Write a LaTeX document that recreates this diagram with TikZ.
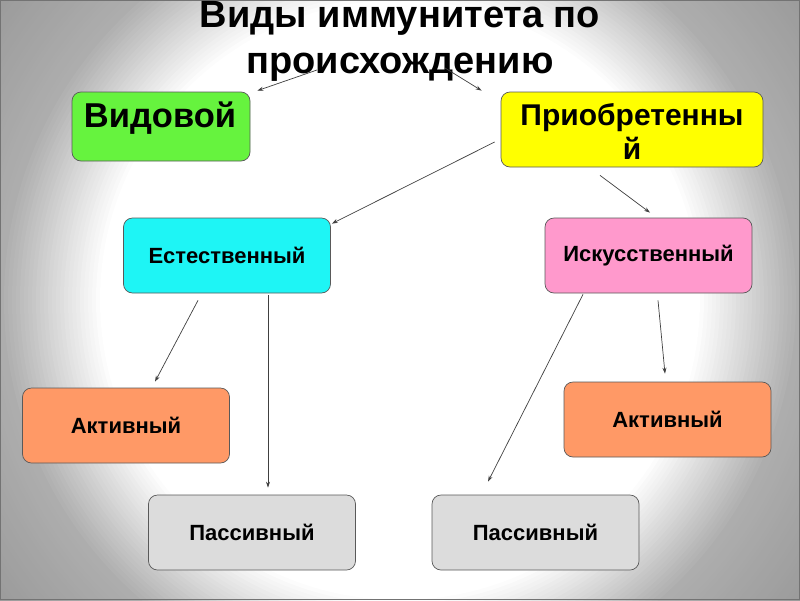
\documentclass[tikz,border=0pt]{standalone}
\usepackage{fontspec}
\setmainfont{Liberation Sans}
\usetikzlibrary{arrows.meta,calc}
\definecolor{cgreen}{HTML}{66F33E}
\definecolor{cyellow}{HTML}{FFFF00}
\definecolor{ccyan}{HTML}{1EF5F5}
\definecolor{cpink}{HTML}{FF99CC}
\definecolor{corange}{HTML}{FF9966}
\definecolor{cgrey}{HTML}{DCDCDC}
\definecolor{cline}{HTML}{404040}
\tikzset{
  box/.style={draw=black!65, line width=0.7pt, rounded corners=9pt, inner sep=0pt},
  smallbox/.style={box, minimum width=207pt, minimum height=75pt, font=\fontsize{22}{25}\selectfont\bfseries},
  conn/.style={draw=cline, line width=0.7pt, -{Stealth[length=6pt,width=4pt]}}
}
\begin{document}
\begin{tikzpicture}[x=1pt,y=-1pt]
\useasboundingbox (0,0) rectangle (800,600);
\begin{scope}
\clip (0,0) rectangle (800,600);
\fill[black!41] (0,0) rectangle (800,600);
\foreach \r in {520,516,...,296} {
  \pgfmathsetmacro\g{ifthenelse(\r>400, 32+7*(\r-400)/100, max(0,32*(\r-300)/100))}
  \fill[black!\g] (400,300) circle (\r);
}
\end{scope}
\draw[black!55, line width=1.2pt] (0.6,0.6) rectangle (799.4,599.4);
% title
\node[inner sep=0pt, anchor=north, align=center, font=\fontsize{38}{46}\selectfont\bfseries] (title) at (400,1) {Виды иммунитета по\\происхождению};
% big boxes
\node[box, fill=cgreen, minimum width=178pt, minimum height=69pt] (vid) at (161,126.5) {};
\node[anchor=base, inner sep=0pt, font=\fontsize{34.5}{36}\selectfont\bfseries] (vidt) at (160,127) {Видовой};
\node[box, fill=cyellow, minimum width=262pt, minimum height=75pt] (acq) at (632,129.5) {};
\node[anchor=base, inner sep=0pt, font=\fontsize{30}{34}\selectfont\bfseries] (acqt1) at (632,125) {Приобретенны};
\node[anchor=base, inner sep=0pt, font=\fontsize{30}{34}\selectfont\bfseries] (acqt2) at (632,159) {й};
% small boxes
\node[smallbox, fill=ccyan] (nat) at (227,255.5) {Естественный};
\node[smallbox, fill=cpink] (art) at (648.5,255.5) {Искусственный};
\node[smallbox, fill=corange] (act1) at (126,425.5) {Активный};
\node[smallbox, fill=cgrey] (pas1) at (252,532.5) {Пассивный};
\node[smallbox, fill=corange] (act2) at (667.5,419.5) {Активный};
\node[smallbox, fill=cgrey] (pas2) at (535.5,532.5) {Пассивный};
% connectors
\coordinate (tl) at (317,70);
\coordinate (tr) at (445,68);
\draw[conn] (tl) -- ($(vid.north east)+(7,-1)$);
\draw[conn] (tr) -- ($(acq.north west)+(-19,-1)$);
\draw[conn] ($(acq.west)+(-6,12.5)$) -- ($(nat.north east)+(1,6)$);
\draw[conn] ($(acq.south)+(-32,8)$) -- ($(art.north)+(1.5,-5)$);
\draw[conn] ($(nat.south)+(-29,7)$) -- ($(act1.north)+(29,-6)$);
\draw[conn] ($(nat.south)+(41,2)$) -- ($(pas1.north)+(16,-7)$);
\draw[conn] ($(art.south)+(-65.5,1)$) -- ($(pas2.north)+(-47.5,-13)$);
\draw[conn] ($(art.south)+(9.5,7)$) -- ($(act2.north)+(-2.5,-8)$);
\end{tikzpicture}
\end{document}
